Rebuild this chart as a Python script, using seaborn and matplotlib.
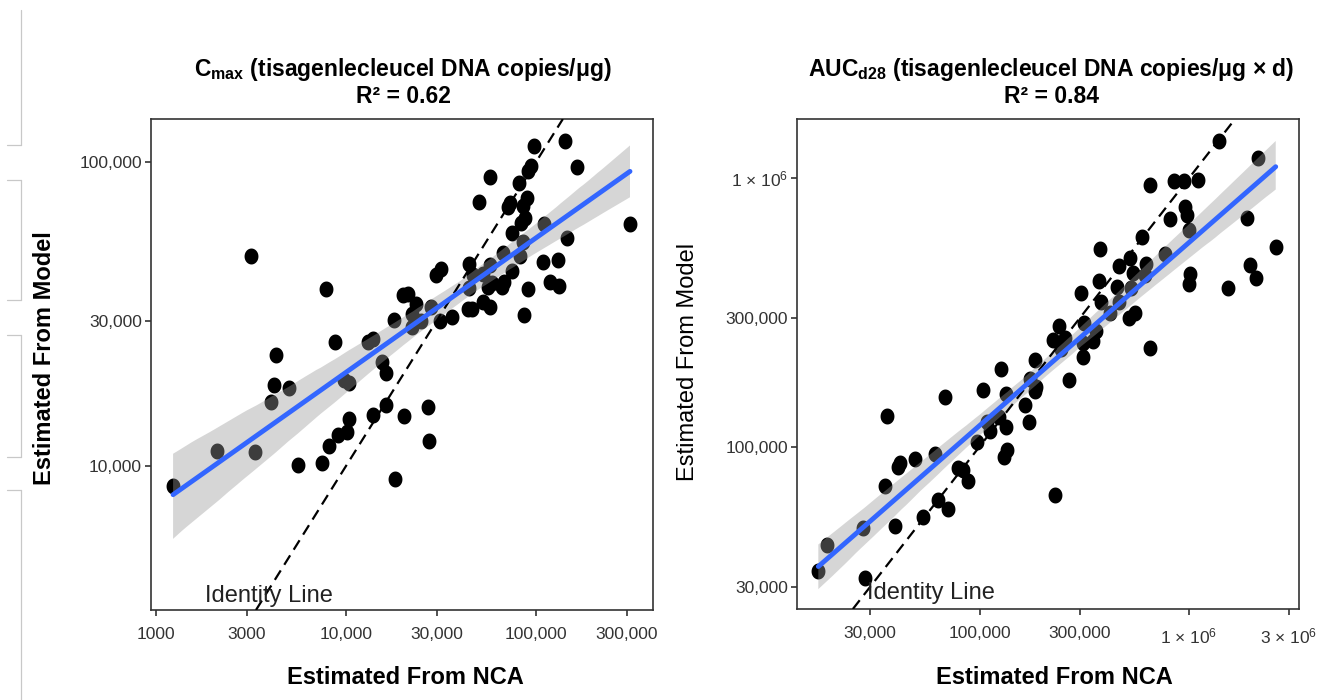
import numpy as np
import pandas as pd
import matplotlib
matplotlib.use("Agg")
import matplotlib.pyplot as plt
from matplotlib import font_manager as fm
from matplotlib.path import Path
from matplotlib.lines import Line2D
import seaborn as sns

# ---------------- data ----------------
cmax_nca = [3160, 7850, 8750, 4300, 13100, 13900, 15500, 18000, 20000, 21200,
            23400, 22200, 22200, 24700, 28000, 31200, 36300, 29600, 31600, 44000,
            45900, 44600, 46400, 44600, 52300, 57300, 52800, 57500, 56100, 59000,
            66000, 67900, 66800, 74500, 74500, 82700, 85400, 90400, 86700, 82900,
            87800, 85400, 89900, 71100, 73000, 81700, 91100, 94500, 97800, 57300,
            50300, 142100, 163800, 110400, 145600, 108800, 129800, 118500, 132200, 312400,
            4200, 5010, 4030, 2090, 3320, 1230, 5570, 7450, 8170, 9110,
            10100, 10400, 9740, 10400, 16200, 13900, 16200, 20300, 27100, 27400,
            18100]
cmax_model = [49200, 38100, 25500, 23100, 25600, 26100, 22000, 30300, 36500, 36700,
              34000, 31700, 28600, 30100, 33400, 30000, 31000, 42500, 44300, 32900,
              32800, 46100, 42500, 38400, 42700, 45700, 34600, 33400, 38900, 39900,
              38900, 40300, 50300, 43800, 58500, 49100, 54500, 38200, 31300, 63200,
              65300, 71700, 76000, 70900, 73300, 85600, 93200, 97200, 112900, 89500,
              74000, 117100, 96300, 62700, 56100, 46900, 47500, 40400, 39200, 62500,
              18400, 18000, 16200, 11200, 11100, 8610, 10100, 10200, 11600, 12600,
              12900, 14300, 19200, 18700, 20300, 14700, 15900, 14600, 15600, 12100,
              9040]

auc_nca = [1395000, 2127000, 649000, 846000, 944000, 1107000, 957000, 975000, 809000, 1003000,
           1885000, 2592000, 1954000, 2081000, 1539000, 1005000, 996000, 768000, 594000, 523000,
           622000, 462000, 542000, 616000, 375000, 373000, 453000, 527000, 304000, 381000,
           462000, 418000, 518000, 552000, 239000, 315000, 225000, 256000, 359000, 348000,
           313000, 648000, 245000, 184000, 313000, 126000, 104000, 68400, 134000, 187000,
           184000, 175000, 268000, 165000, 173000, 36200, 108000, 112000, 124000, 134000,
           96900, 135000, 131000, 61300, 49200, 41600, 40700, 35400, 79200, 83600,
           88400, 63400, 70900, 53600, 39500, 27900, 229000, 18600, 17000, 28400]
auc_model = [1377000, 1184000, 944000, 972000, 972000, 987000, 780000, 730000, 702000, 639000,
             712000, 555000, 475000, 423000, 391000, 438000, 404000, 521000, 602000, 502000,
             478000, 470000, 442000, 434000, 544000, 414000, 394000, 389000, 372000, 345000,
             345000, 314000, 300000, 314000, 282000, 288000, 250000, 254000, 270000, 248000,
             244000, 233000, 231000, 211000, 215000, 194000, 163000, 153000, 157000, 167000,
             161000, 178000, 177000, 143000, 123000, 130000, 124000, 114000, 129000, 118000,
             104000, 97400, 91300, 93800, 89800, 86700, 84200, 71500, 83000, 81900,
             74600, 63400, 58700, 54500, 50600, 49600, 66100, 43000, 34500, 32300]

cmax_xticks = [1000, 3000, 10000, 30000, 100000, 300000]
cmax_xlabels = ["1000", "3000", "10,000", "30,000", "100,000", "300,000"]
cmax_yticks = [10000, 30000, 100000]
cmax_ylabels = ["10,000", "30,000", "100,000"]
auc_xticks = [30000, 100000, 300000, 1e6, 3e6]
auc_xlabels = ["30,000", "100,000", "300,000", r"1 × 10$^6$", r"3 × 10$^6$"]
auc_yticks = [30000, 100000, 300000, 1e6]
auc_ylabels = ["30,000", "100,000", "300,000", r"1 × 10$^6$"]

# ---------------- style ----------------
sns.set_theme(style="white")
names = {f.name for f in fm.fontManager.ttflist}
HAS_NARROW = "Liberation Sans Narrow" in names
NARROW = "Liberation Sans Narrow" if HAS_NARROW else "Liberation Sans"
plt.rcParams["font.family"] = ["Liberation Sans", "DejaVu Sans"]
plt.rcParams["mathtext.fontset"] = "custom"
plt.rcParams["mathtext.rm"] = "Liberation Sans"
plt.rcParams["mathtext.bf"] = NARROW + ":bold"
plt.rcParams["mathtext.default"] = "regular"

TITLE_SIZE = 19.5 if HAS_NARROW else 16.5
ID_SIZE = 21 if HAS_NARROW else 17

W, H = 1344, 700
fig = plt.figure(figsize=(W / 100, H / 100), dpi=100, facecolor="white")


def fx(px):
    return px / W


def fy(py):
    return 1 - py / H


t = np.linspace(0, 2 * np.pi, 60)
ell = Path(np.column_stack([np.cos(t), 1.15 * np.sin(t)]), closed=True)

DARK = "#333333"


def panel(rect, nca, model, xlim, ylim, xt, xl, yt, yl, id_pos):
    ax = fig.add_axes(rect)
    df = pd.DataFrame({"NCA": np.log10(nca), "Model": np.log10(model)})
    sns.scatterplot(data=df, x="NCA", y="Model", ax=ax, color="black",
                    marker=ell, s=132, linewidth=0, legend=False, zorder=2)
    sns.regplot(data=df, x="NCA", y="Model", ax=ax, scatter=False, ci=95,
                seed=3, color="#3366FF", line_kws=dict(lw=3.5, zorder=4))
    band = ax.collections[-1]
    band.set_facecolor("#999999")
    band.set_alpha(0.4)
    band.set_edgecolor("none")
    band.set_zorder(3)
    ax.axline((4, 4), (5, 5), color="black", ls=(0, (5, 3)), lw=1.6, zorder=3.5)
    ax.set_xlim(*xlim)
    ax.set_ylim(*ylim)
    ax.set_xticks(np.log10(xt))
    ax.set_xticklabels(xl)
    ax.set_yticks(np.log10(yt))
    ax.set_yticklabels(yl)
    ax.set_xlabel("")
    ax.set_ylabel("")
    for s in ax.spines.values():
        s.set_visible(True)
        s.set_color(DARK)
        s.set_linewidth(1.2)
    ax.tick_params(axis="both", direction="out", length=4.5, width=1.2,
                   color=DARK, labelsize=12.5, labelcolor=DARK,
                   left=True, bottom=True)
    ax.tick_params(axis="x", pad=8)
    ax.tick_params(axis="y", pad=2)
    ax.grid(False)
    ax.text(id_pos[0], id_pos[1], "Identity Line", transform=ax.transAxes,
            ha="left", va="baseline", fontsize=ID_SIZE, family=NARROW,
            color="#222222", zorder=6)
    return ax


ax1 = panel([fx(151), fy(610), fx(502), 491 / H], cmax_nca, cmax_model,
            (2.9737, 5.6158), (3.5263, 5.1414),
            cmax_xticks, cmax_xlabels, cmax_yticks, cmax_ylabels,
            (0.1076, 0.0163))
ax2 = panel([fx(797), fy(609), fx(502), 490 / H], auc_nca, auc_model,
            (4.1287, 6.5248), (4.3954, 6.2197),
            auc_xticks, auc_xlabels, auc_yticks, auc_ylabels,
            (0.1395, 0.0204))

# titles
fig.text(fx(403), fy(76), r"C$_{\mathbf{max}}$ (tisagenlecleucel DNA copies/μg)",
         ha="center", va="baseline", fontsize=TITLE_SIZE, fontweight="bold",
         family=NARROW, color="black")
fig.text(fx(403), fy(103), "R² = 0.62", ha="center", va="baseline",
         fontsize=TITLE_SIZE, fontweight="bold", family=NARROW, color="black")
fig.text(fx(1051), fy(76), r"AUC$_{\mathbf{d28}}$ (tisagenlecleucel DNA copies/μg × d)",
         ha="center", va="baseline", fontsize=TITLE_SIZE, fontweight="bold",
         family=NARROW, color="black")
fig.text(fx(1051), fy(103), "R² = 0.84", ha="center", va="baseline",
         fontsize=TITLE_SIZE, fontweight="bold", family=NARROW, color="black")

# axis labels
fig.text(fx(45), fy(358), "Estimated From Model", rotation=90, ha="center",
         va="center", fontsize=17, fontweight="bold", color="black")
fig.text(fx(688), fy(362), "Estimated From Model", rotation=90, ha="center",
         va="center", fontsize=17, fontweight="normal", color="black")
fig.text(fx(405), fy(677), "Estimated From NCA", ha="center", va="center",
         fontsize=17, fontweight="bold", color="black")
fig.text(fx(1054), fy(677), "Estimated From NCA", ha="center", va="center",
         fontsize=17, fontweight="bold", color="black")

# light gray bracket marks at the far left edge
GR = "#c8c8c8"
for top, bot, stub_top, stub_bot in [(10, 145, False, True), (180, 300, True, True),
                                     (335, 457, True, True), (490, 700, True, False)]:
    fig.add_artist(Line2D([fx(21), fx(21)], [fy(top), fy(bot)], color=GR, lw=0.9))
    if stub_top:
        fig.add_artist(Line2D([fx(7), fx(21)], [fy(top), fy(top)], color=GR, lw=0.9))
    if stub_bot:
        fig.add_artist(Line2D([fx(7), fx(21)], [fy(bot), fy(bot)], color=GR, lw=0.9))

fig.savefig("out.png", dpi=100, facecolor="white")
